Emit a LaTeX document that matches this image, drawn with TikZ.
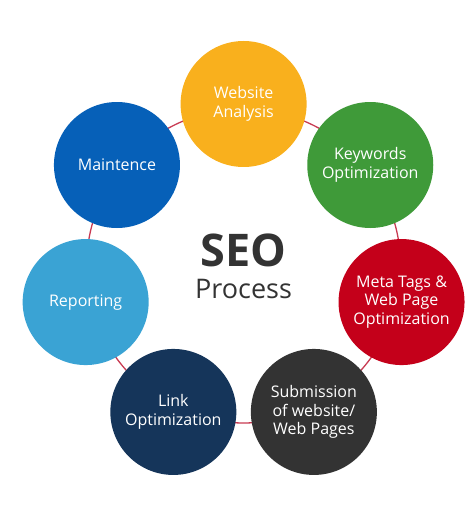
\documentclass[tikz,border=0pt]{standalone}
\usepackage{fontspec}
\setmainfont{Open Sans}
\usetikzlibrary{calc}
\definecolor{cWeb}{HTML}{F9B01D}
\definecolor{cKey}{HTML}{3F9A39}
\definecolor{cMeta}{HTML}{C4001A}
\definecolor{cSub}{HTML}{333333}
\definecolor{cLink}{HTML}{15355A}
\definecolor{cRep}{HTML}{3AA3D4}
\definecolor{cMain}{HTML}{0660B8}
\definecolor{cRing}{HTML}{C83A52}
\definecolor{cText}{HTML}{333333}
\begin{document}
\begin{tikzpicture}[x=1pt,y=1pt,
  stage/.style={circle,minimum size=126pt,inner sep=0pt,text=white,align=center,
    font=\fontsize{16}{18.5}\selectfont},
  ring/.style={draw=cRing,line width=1.3pt}]
\useasboundingbox (0,0) rectangle (474,520);
\coordinate (ctr) at (243.6,254);
\draw[ring] (ctr) circle[radius=157];
\node[stage,fill=cWeb]  (web)  at ($(ctr)+(90:162)$) {Website\\Analysis};
\node[stage,fill=cKey]  (key)  at ($(ctr)+(38.57:162)$) {Keywords\\Optimization};
\node[stage,fill=cMeta] (meta) at ($(ctr)+(-12.86:162)$) {Meta Tags \&\\Web Page\\Optimization};
\node[stage,fill=cSub]  (sub)  at ($(ctr)+(-64.29:162)$) {Submission\\of website/\\Web Pages};
\node[stage,fill=cLink] (link) at ($(ctr)+(-115.71:162)$) {Link\\Optimization};
\node[stage,fill=cRep]  (rep)  at ($(ctr)+(-167.14:162)$) {Reporting};
\node[stage,fill=cMain] (main) at ($(ctr)+(141.43:162)$) {Maintence};
\node[anchor=base,inner sep=0pt,text=cText,font=\fontsize{45}{45}\bfseries\selectfont] (seo) at (243.6,253) {SEO};
\node[anchor=base,inner sep=0pt,text=cText,font=\fontsize{27}{27}\selectfont] (proc) at (243.6,221) {Process};
\end{tikzpicture}
\end{document}
